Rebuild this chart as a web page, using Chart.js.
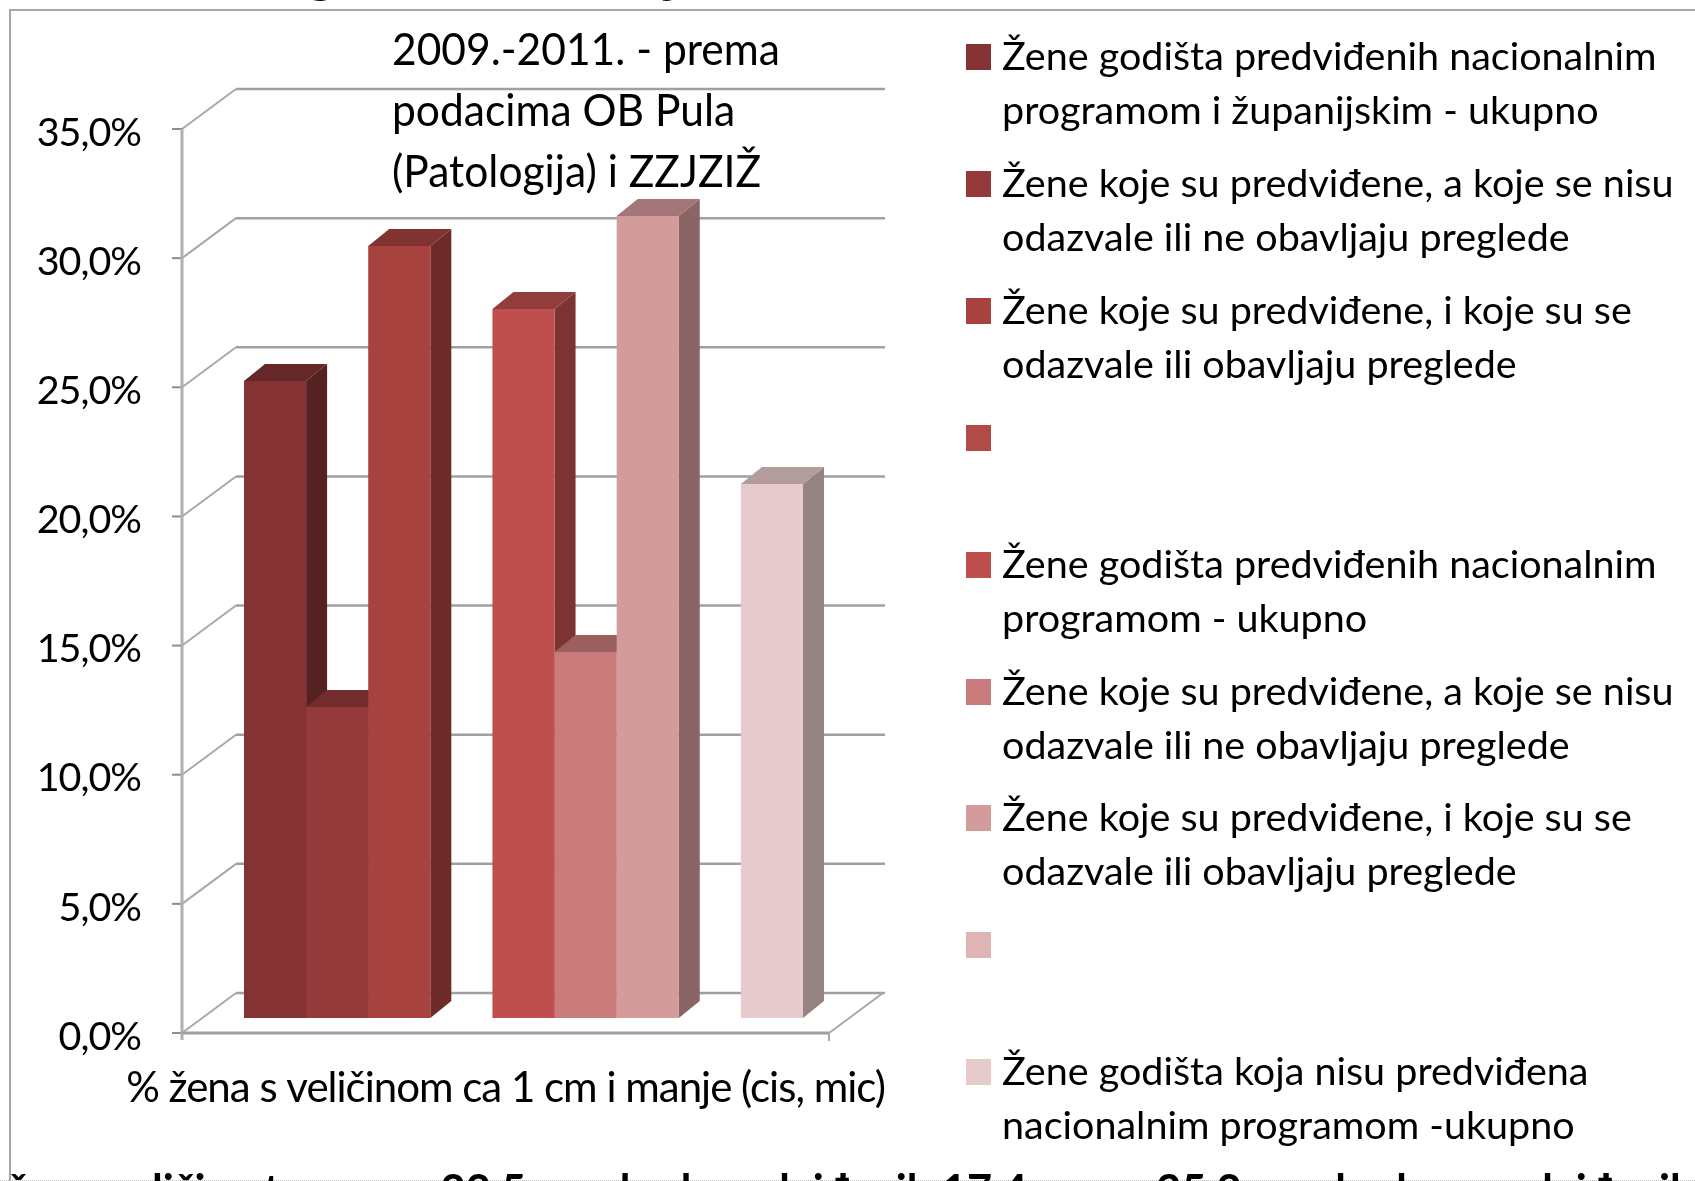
<!DOCTYPE html>
<html>
<head>
<meta charset="utf-8">
<script src="https://cdn.jsdelivr.net/npm/chart.js@4"></script>
<style>
    html, body { margin: 0; padding: 0; background: #fff; overflow: hidden; }
    #okvir { position: relative; width: 1695px; height: 1181px; overflow: hidden; }
    #okvir canvas { position: absolute; left: 0; top: 0; }
    .rub { position: absolute; background: #a6a6a6; }
    .tekst { position: absolute; white-space: nowrap; color: #000; font-family: Lato, sans-serif; transform-origin: 0 0; }
    .kvadrat { position: absolute; width: 25px; height: 26px; }
    .rep { position: absolute; top: -63px; font: 700 60px/60px Lato, sans-serif; color: #000; }
</style>
</head>
<body>
<div id="okvir">
    <canvas id="grafikon" width="1695" height="1181"></canvas>
    <div class="rub" style="left:10px;top:9px;width:1685px;height:2px"></div>
    <div class="rub" style="left:9px;top:9px;width:2px;height:1172px"></div>
    <div style="position:absolute;left:0;top:1180px;width:1695px;border-top:1px dotted #bbb"></div>
    <div class="rep" style="left:193px">y</div>
    <div class="rep" style="left:305px">g</div>
    <div class="rep" style="left:665px">j</div>
    <div id="legenda"></div>
    <div id="naslov"></div>
    <div class="tekst" style="left:8px;top:1163px;font-size:44px;font-weight:700;transform:scaleX(0.985)">žena veličine tumora - 22,5 mm kod predviđenih 17,4 mm u 35,2 mm kod nepredviđenih</div>
</div>
<script>
let kategorije = ['% žena s veličinom ca 1 cm i manje (cis, mic)']
let serije = [
    ['Žene godišta predviđenih nacionalnim', 'programom i županijskim - ukupno'],
    ['Žene koje su predviđene, a koje se nisu', 'odazvale ili ne obavljaju preglede'],
    ['Žene koje su predviđene, i koje su se', 'odazvale ili obavljaju preglede'],
    [],
    ['Žene godišta predviđenih nacionalnim', 'programom - ukupno'],
    ['Žene koje su predviđene, a koje se nisu', 'odazvale ili ne obavljaju preglede'],
    ['Žene koje su predviđene, i koje su se', 'odazvale ili obavljaju preglede'],
    [],
    ['Žene godišta koja nisu predviđena', 'nacionalnim programom -ukupno']
]
let vrijednosti = [24.66, 12.04, 29.89, null, 27.45, 14.17, 31.05, null, 20.67]
let boje = ['#843234', '#953a3a', '#a8423f', '#b24a48', '#be4f4c', '#ca7c7c', '#d49b9b', '#dfb4b4', '#e7cacb']
let naslov = ['2009.-2011. - prema', 'podacima OB Pula', '(Patologija) i ZZJZIŽ']

const font = 'Lato, sans-serif'

// malo tamnija boja za stranice stupca
function sjena(hex, f) {
    let n = parseInt(hex.slice(1), 16)
    return 'rgb(' + Math.round((n >> 16) * f) + ',' + Math.round(((n >> 8) & 255) * f) + ',' + Math.round((n & 255) * f) + ')'
}

function linija(ctx, x1, y1, x2, y2, boja, debljina) {
    ctx.beginPath()
    ctx.moveTo(x1, y1)
    ctx.lineTo(x2, y2)
    ctx.strokeStyle = boja
    ctx.lineWidth = debljina
    ctx.stroke()
}

function poligon(ctx, tocke, boja) {
    ctx.beginPath()
    tocke.forEach((t, i) => i ? ctx.lineTo(t[0], t[1]) : ctx.moveTo(t[0], t[1]))
    ctx.closePath()
    ctx.fillStyle = boja
    ctx.fill()
}

// 3D izgled: stražnji zid, pod i stranice stupaca
const dubinaZida = { x: 54, y: -40 }
const pomakStupca = { x: 18, y: -15 }
const dubinaStupca = { x: 21, y: -17 }

let treciD = {
    id: 'treciD',
    beforeDraw(chart) {
        // tekst na osima je uži, kao u originalu
        chart.ctx.letterSpacing = '-1px'
    },
    beforeDatasetsDraw(chart) {
        let ctx = chart.ctx
        let sc = chart.scales.y
        let a = chart.chartArea
        ctx.save()
        sc.ticks.forEach(t => {
            let y = sc.getPixelForValue(t.value)
            linija(ctx, a.left - 10, y, a.left, y, '#8c8c8c', 2)
            linija(ctx, a.left, y, a.left + dubinaZida.x, y + dubinaZida.y, '#a8a8a8', 2)
            linija(ctx, a.left + dubinaZida.x, y + dubinaZida.y, a.right + dubinaZida.x + 2, y + dubinaZida.y, '#a0a0a0', 2.5)
        })
        linija(ctx, a.left, a.top, a.left, a.bottom + 7, '#b0b0b0', 3)
        linija(ctx, a.left, a.bottom, a.right, a.bottom, '#a0a0a0', 3)
        linija(ctx, a.right, a.bottom, a.right, a.bottom + 8, '#a8a8a8', 2)
        linija(ctx, a.right, a.bottom, a.right + dubinaZida.x, a.bottom + dubinaZida.y, '#a8a8a8', 2)
        ctx.restore()

        ctx.save()
        ctx.translate(pomakStupca.x, pomakStupca.y)
        chart.data.datasets.forEach((d, i) => {
            if (d.data[0] === null) return
            let b = chart.getDatasetMeta(i).data[0]
            let l = b.x - b.width / 2, r = b.x + b.width / 2
            let dx = dubinaStupca.x, dy = dubinaStupca.y
            poligon(ctx, [[r, b.y], [r + dx, b.y + dy], [r + dx, b.base + dy], [r, b.base]], sjena(boje[i], 0.65))
            poligon(ctx, [[l, b.y], [l + dx, b.y + dy], [r + dx, b.y + dy], [r, b.y]], sjena(boje[i], 0.77))
        })
        // prednje plohe idu u istom pomaku, vraca se u afterDatasetsDraw
    },
    afterDatasetsDraw(chart) {
        chart.ctx.restore()
    }
}

new Chart(document.getElementById('grafikon'), {
    type: 'bar',
    data: {
        labels: kategorije,
        datasets: vrijednosti.map((v, i) => ({
            label: serije[i].join(' '),
            data: [v],
            backgroundColor: boje[i],
            clip: false,
            categoryPercentage: 0.864,
            barPercentage: 1
        }))
    },
    plugins: [treciD],
    options: {
        responsive: false,
        animation: false,
        layout: { padding: { left: 0, top: 129, right: 866, bottom: 0 } },
        plugins: {
            legend: { display: false },
            title: { display: false },
            tooltip: { enabled: false }
        },
        scales: {
            x: {
                grid: { display: false },
                border: { display: false },
                afterFit: s => {
                    s.height = 148
                    s.paddingLeft = 0
                    s.paddingRight = 0
                },
                ticks: { color: '#000', font: { family: font, size: 42 }, padding: 22, maxRotation: 0 }
            },
            y: {
                min: 0,
                max: 35,
                grid: { display: false, drawTicks: false },
                border: { display: false },
                afterFit: s => {
                    s.width = 182
                    s.paddingTop = 0
                    s.paddingBottom = 0
                },
                ticks: {
                    stepSize: 5,
                    color: '#000',
                    font: { family: font, size: 39.5 },
                    padding: 41,
                    labelOffset: 4,
                    callback: v => v.toFixed(1).replace('.', ',') + '%'
                }
            }
        }
    }
})

// legenda s dva reda teksta
let legenda = document.getElementById('legenda')
serije.forEach((redovi, i) => {
    let y = 44 + i * 126.9
    legenda.innerHTML += '<div class="kvadrat" style="left:966px;top:' + y + 'px;background:' + boje[i] + '"></div>'
    redovi.forEach((red, j) => {
        legenda.innerHTML += '<div class="tekst" style="left:1002px;top:' + (y - 13 + j * 54) + 'px;font-size:39.5px">' + red + '</div>'
    })
})

let naslovEl = document.getElementById('naslov')
naslov.forEach((red, i) => {
    naslovEl.innerHTML += '<div class="tekst" style="left:392px;top:' + (22 + i * 61) + 'px;font-size:44px;transform:scaleX(0.967)">' + red + '</div>'
})
</script>
</body>
</html>
